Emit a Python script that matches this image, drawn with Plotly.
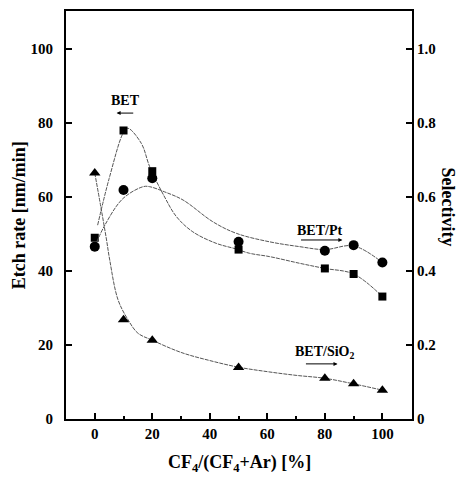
import plotly.graph_objects as go

# ---- data ----
x_pts = [0, 10, 20, 50, 80, 90, 100]
bet_rate = [49.0, 78.0, 67.0, 45.8, 40.7, 39.2, 33.1]          # squares, nm/min (left axis)
sel_pt = [0.466, 0.619, 0.651, 0.479, 0.455, 0.470, 0.423]     # circles, selectivity (right axis)
sel_sio2 = [0.665, 0.268, 0.213, 0.139, 0.110, 0.095, 0.078]   # triangles, selectivity (right axis)

# guide curves drawn through/near the points
bet_curve_x = [1, 5, 10, 11.5, 16.2, 19.1, 24.3, 28.4, 34.1, 42.2, 49, 53.8, 60.8, 71.2, 80, 90, 100]
bet_curve_y = [52.4, 65, 77.5, 78.6, 74.5, 68.2, 60.0, 54.7, 50.6, 47.5, 46.0, 44.8, 43.9, 42.1, 40.7, 39.2, 33.1]

pt_curve_x = [0, 3.5, 9.8, 16.8, 19.1, 24.3, 30.7, 41.1, 49.2, 60.8, 71.2, 80, 90, 100]
pt_curve_y = [0.466, 0.524, 0.596, 0.628, 0.628, 0.614, 0.592, 0.533, 0.502, 0.479, 0.466, 0.458, 0.468, 0.423]

sio2_curve_x = [0, 2.1, 4.1, 5.2, 8.1, 11.6, 15, 19.7, 30, 40, 50, 60, 70, 80, 90, 100]
sio2_curve_y = [0.665, 0.574, 0.484, 0.43, 0.322, 0.268, 0.232, 0.214, 0.180, 0.158, 0.140, 0.128, 0.118, 0.110, 0.095, 0.078]

left_ticks = [0, 20, 40, 60, 80, 100]
right_ticks = [0, 0.2, 0.4, 0.6, 0.8, 1.0]
right_ticktext = ["0", "0.2", "0.4", "0.6", "0.8", "1.0"]
x_ticks = [0, 20, 40, 60, 80, 100]

FONT = "Liberation Serif"
line_style = dict(color="#555555", width=1, shape="spline", dash="4px,1px")

fig = go.Figure()

fig.add_trace(go.Scatter(x=bet_curve_x, y=bet_curve_y, mode="lines", line=line_style,
                         hoverinfo="skip", showlegend=False))
fig.add_trace(go.Scatter(x=pt_curve_x, y=pt_curve_y, mode="lines", line=line_style,
                         yaxis="y2", hoverinfo="skip", showlegend=False))
fig.add_trace(go.Scatter(x=sio2_curve_x, y=sio2_curve_y, mode="lines", line=line_style,
                         yaxis="y2", hoverinfo="skip", showlegend=False))

fig.add_trace(go.Scatter(x=x_pts, y=bet_rate, mode="markers", name="BET",
                         marker=dict(symbol="square", size=8, color="black"), showlegend=False))
fig.add_trace(go.Scatter(x=x_pts, y=sel_pt, mode="markers", name="BET/Pt", yaxis="y2",
                         marker=dict(symbol="circle", size=10, color="black"), showlegend=False))
fig.add_trace(go.Scatter(x=x_pts, y=sel_sio2, mode="markers", name="BET/SiO2", yaxis="y2",
                         marker=dict(symbol="triangle-up", size=10, color="black"), showlegend=False))

tickfont = dict(family=FONT, size=15, color="black", weight="bold")

fig.update_layout(
    width=463, height=477,
    margin=dict(l=66, r=51, t=11, b=58, autoexpand=False),
    paper_bgcolor="white", plot_bgcolor="white",
    font=dict(family=FONT, color="black"),
    xaxis=dict(range=[-10, 110.3], tickvals=x_ticks, ticks="inside", ticklen=6, tickwidth=2,
               tickcolor="black", showline=True, linewidth=2, linecolor="black", mirror=True,
               showgrid=False, zeroline=False, tickfont=tickfont, automargin=False,
               minor=dict(tickvals=[10, 30, 50, 70, 90], ticks="inside", ticklen=3, tickwidth=2,
                          tickcolor="black")),
    yaxis=dict(range=[0, 110.3], tickvals=left_ticks, ticks="inside", ticklen=6, tickwidth=2,
               tickcolor="black", showline=True, linewidth=2, linecolor="black", mirror=True,
               showgrid=False, zeroline=False, tickfont=tickfont, ticklabelstandoff=8,
               automargin=False),
    yaxis2=dict(range=[0, 1.103], overlaying="y", side="right", tickvals=right_ticks,
                ticktext=right_ticktext, ticks="inside", ticklen=6, tickwidth=2, tickcolor="black",
                showline=True, linewidth=2, linecolor="black", showgrid=False, zeroline=False,
                tickfont=tickfont, automargin=False),
)

title_font = dict(family=FONT, size=18, color="black", weight="bold")
label_font = dict(family=FONT, size=14, color="black", weight="bold")

annotations = [
    dict(text="Etch rate [nm/min]", xref="paper", yref="paper", x=-0.135, y=0.5,
         xanchor="center", yanchor="middle", textangle=-90, showarrow=False, font=title_font),
    dict(text="Selectivity", xref="paper", yref="paper", x=1.105, y=0.52,
         xanchor="center", yanchor="middle", textangle=90, showarrow=False, font=title_font),
    dict(text="CF<sub>4</sub>/(CF<sub>4</sub>+Ar) [%]", xref="paper", yref="paper", x=0.50, y=-0.11,
         xanchor="center", yanchor="middle", showarrow=False, font=title_font),
    dict(text="BET", xref="x", yref="y", x=10.8, y=86.2, showarrow=False, font=label_font),
    dict(text="BET/Pt", xref="x", yref="y", x=78.1, y=51.0, showarrow=False, font=label_font),
    dict(text="BET/SiO<sub>2</sub>", xref="x", yref="y", x=79.9, y=18.0, showarrow=False, font=label_font),
    dict(text="", xref="x", yref="y", axref="x", ayref="y", x=7.6, y=82.7, ax=13.9, ay=82.7,
         showarrow=True, arrowhead=2, arrowsize=0.8, arrowwidth=1, arrowcolor="black"),
    dict(text="", xref="x", yref="y", axref="x", ayref="y", x=86.1, y=48.4, ax=71.2, ay=48.4,
         showarrow=True, arrowhead=2, arrowsize=0.8, arrowwidth=1, arrowcolor="black"),
    dict(text="", xref="x", yref="y", axref="x", ayref="y", x=84.4, y=14.9, ax=72.9, ay=14.9,
         showarrow=True, arrowhead=2, arrowsize=0.8, arrowwidth=1, arrowcolor="black"),
]
fig.update_layout(annotations=annotations)

fig.write_html("out.html", config={"displayModeBar": False},
               post_script="document.body.style.margin='0px';document.body.style.overflow='hidden';")
